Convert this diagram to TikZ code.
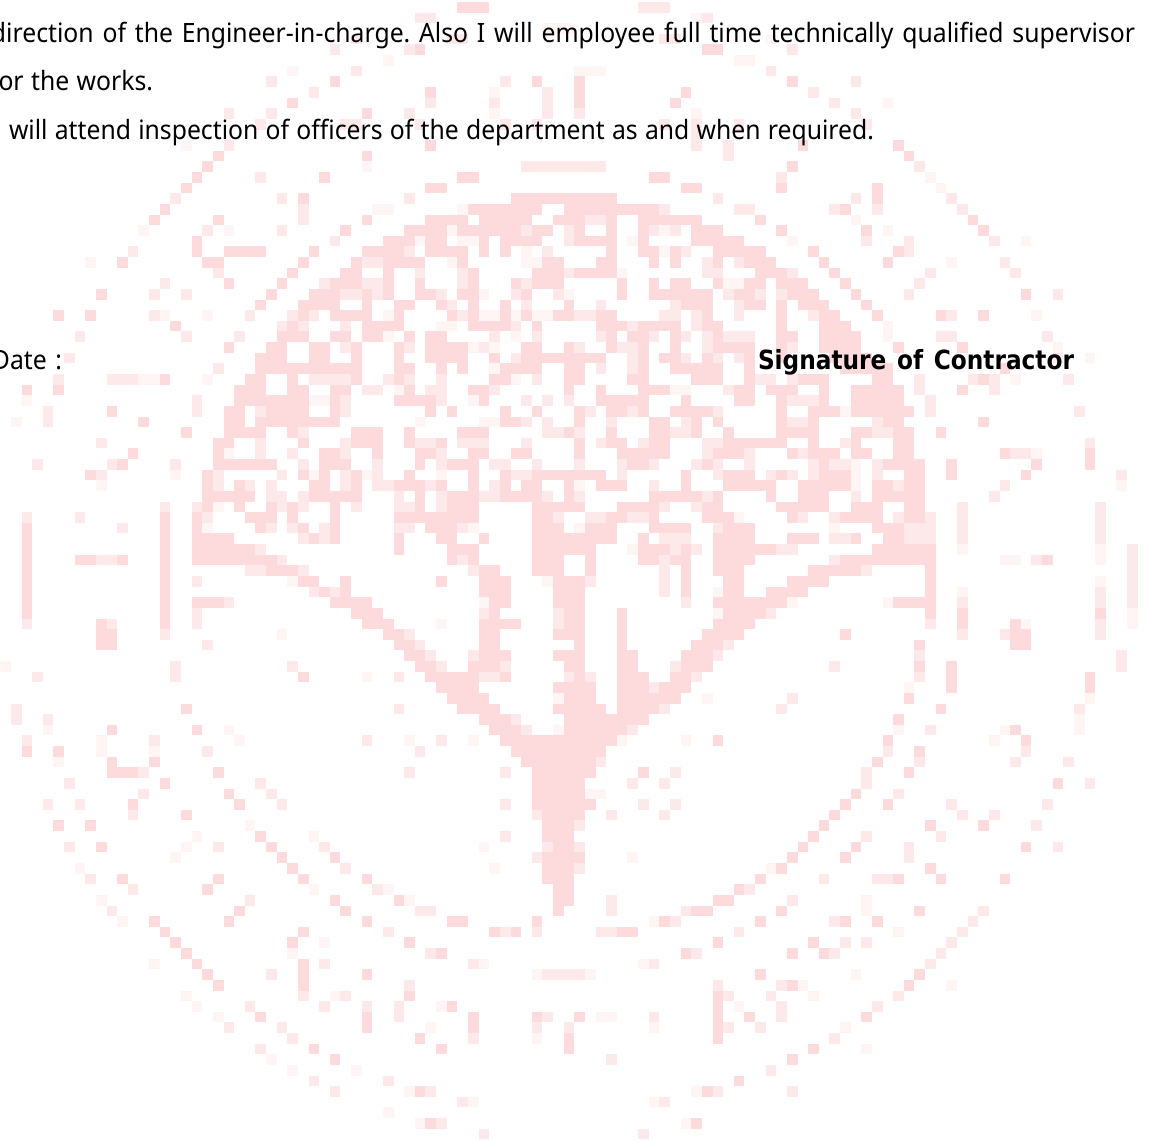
\documentclass[tikz,border=0pt]{standalone}
\usepackage{fontspec}
\setmainfont[FakeStretch=0.93]{Noto Sans}
\newfontfamily\sigfont[FakeStretch=0.88]{DejaVu Sans}
\frenchspacing
\definecolor{wmF}{HTML}{FDDADB}
\definecolor{wmL}{HTML}{FEE9EA}
\definecolor{wmT}{HTML}{FFF5F5}
\tikzset{
  wmf/.style={fill=wmF},
  wml/.style={fill=wmL},
  wmt/.style={fill=wmT},
  bodytext/.style={inner sep=0pt,outer sep=0pt,text=black,font=\fontsize{26.6bp}{30bp}\selectfont},
  signtext/.style={inner sep=0pt,outer sep=0pt,text=black,font=\sigfont\fontsize{26.4bp}{30bp}\selectfont\bfseries},
}
\newcommand\wmcells[2]{%
  \if\relax\detokenize{#2}\relax\else
  \foreach \ca/\cb in {#2}{%
    \pgfmathsetmacro\xa{round(181+10.63*\ca)}%
    \pgfmathsetmacro\xb{round(181+10.63*(\cb+1))}%
    \fill[#1] (\xa,\ya) rectangle (\xb,\yb);
  }\fi}
\newcommand\wmrow[4]{%
  \pgfmathsetmacro\ya{round(182.67+10.63*(#1))}%
  \pgfmathsetmacro\yb{round(182.67+10.63*(#1+1))}%
  \wmcells{wmt}{#4}\wmcells{wml}{#3}\wmcells{wmf}{#2}}
\begin{document}
\begin{tikzpicture}[x=1bp,y=-1bp]
\useasboundingbox (0,0) rectangle (1150,1142);
\wmrow{-17}{26/28}{43/45}{}
\wmrow{-16}{}{22/23,49}{48}
\wmrow{-15}{}{}{34/36}
\wmrow{-14}{}{16,25/26,45/46}{55}
\wmrow{-13}{22,49/50}{14,21,57}{}
\wmrow{-12}{}{}{19,52/53}
\wmrow{-11}{}{16,55}{10,37/39}
\wmrow{-10}{14,33,37,57}{8,30,63}{}
\wmrow{-9}{23,37,47}{12,34,59}{29}
\wmrow{-8}{10,37,46}{23,29,34,61}{66}
\wmrow{-7}{17}{4,8,21,34,37,63}{29,48}
\wmrow{-6}{}{7,15/16,22,30,33,45,48,52,64}{}
\wmrow{-5}{}{48}{}
\wmrow{-4}{23,58,67}{4,48,51}{0}
\wmrow{-3}{3,17,68}{51}{}
\wmrow{-2}{2,57}{32/39,69}{17}
\wmrow{-1}{1,13,26/27,44/45}{7,56}{70}
\wmrow{0}{0,23/24,47/48,56,65}{}{71}
\wmrow{1}{11,31/40,65}{-1,9,21,50,63,72}{}
\wmrow{2}{-2,27/33,36/44,62}{11,45,52/53,61,65,73}{18/19,26}
\wmrow{3}{-3,3,17,23/26,28/32,35/37,40,43/48,54,74}{11,38/39}{63}
\wmrow{4}{15,21/24,26/31,33/34,37,40,43,48/50,56,64,75}{2,9,32,36,44,46}{-4,4,25,45,66}
\wmrow{5}{1,19/21,23/24,28,30/33,37/40,43,48/52}{14,36,64,68,76}{22,26/27,42,57,79}
\wmrow{6}{1,4/7,12,17/20,23/26,28,30,40,43/44,46,50/54,59,67}{-5,21,34,47,68}{32,45}
\wmrow{7}{-6,2/3,11,16,19/22,26,34/35,39/40,44,46,50,53/55,60,66}{17/18,49,52,77}{-9,25,32/33,72}
\wmrow{8}{10,15/16,19,27,33/35,37/40,54/56,61}{3,22,26,36,49/50,57,70,78}{41}
\wmrow{9}{4,9,14/16,19,22,27,31,33/35,41,44,46/47,50,53/54,56/58,62}{-2,13,17/18,26,32,69}{51/52}
\wmrow{10}{-8,8,12/14,17,19,22/23,26/27,32,41,44/49,52/53,57/59,63,79}{-3,0,15/16,18,24,31,35,51,54,56,68,82}{28,36}
\wmrow{11}{7,11/14,17,20/21,24,27,30,36,47/49,53/54,56,58/60,64}{25,32,39,46,52}{}
\wmrow{12}{-12,-9,11,14/17,20,25,27,30,32,35/36,39/40,49,56,60/61,65,71,75}{-3,6,10,12,26,37/38,45/46,48,52,59,72}{-2,2,19,28/29,31,33/34,80}
\wmrow{13}{-1,10,17/20,27/30,33,39/41,43/46,49/50,56,60/62}{9,11,15,31,42,48}{24/25,66}
\wmrow{14}{9/11,14/15,17/18,21,23/24,40,42/43,46,50,56/57,60/63}{-10,0,5,29,33,39,44,47,49,51/53,71/72,81}{19,31,66}
\wmrow{15}{4,8/9,12/13,16,20,23/26,32/33,36,40,43,46,50/53,56,60/63,67,73}{15,21,28,37,41/42,49,57}{27,29,82}
\wmrow{16}{7/9,12/13,16,20,23/26,29,32/39,43,45/46,49,53,56,61/64}{-11,31,42,47,50,52,82}{85}
\wmrow{17}{7/16,20/21,24,26,30/33,36/37,43,46/50,53,62/66,77}{3,39,42}{29}
\wmrow{18}{-2,6/7,10,16,20,29/30,36/37,42/43,48/50,53,58/60,65/66,75}{-12,-7/-5,12/15,19,21,24,33,54/55,57,69,74,76,83}{-4/-3,2,31,78}
\wmrow{19}{-15,-12,5/7,10/11,14/15,21,27/28,36,39,43/45,52/53,55/57,60,63/67,73}{17/18,23/24,29,51,69,76}{20,46/47}
\wmrow{20}{5/11,14,20/23,28,39/43,47,52/53,56,60,63/67}{1,15,24,32,34,36,57/59,70}{-15,12/13,27}
\wmrow{21}{-7,4/5,8/11,14,23,25,30,33,37,40/41,43,46/49,56,59/61,63/68}{-13,1,7,15,38,42,50,70,84}{62}
\wmrow{22}{-4,4/5,7/14,30/31,37,44/45,48,50,56,59,66/67,75}{-13,32,34,40,47,57/58,65}{-16,22,28/29}
\wmrow{23}{0,4/7,10,16/18,21,26/28,36,40,44/45,48,51,56/59,63/64,67/68,71}{11,34/35,37,46/47,65/66}{}
\wmrow{24}{3/4,11,16/18,21,24,37,40/41,44/45,51/56,59,63,67/68}{-8,7,15,22/23,26/28,32,39,43,49/50,62,85}{}
\wmrow{25}{-5,3,13/14,18,22/23,27/28,31/32,37,41/45,50/52,57,59/61,63/64,67/68,77,85}{7,10,15,24,49,53,58,78/79}{4,80}
\wmrow{26}{-6,3/8,13/15,22,25/27,42/43,49,60,66/69,72,80,85}{-14,-7,-1,11,18,24,29/30,33,37,41,44,48,50,53,59,61/62,65}{63}
\wmrow{27}{-9,2,11,13,16,21,27,30,33/39,47,51/53,56,60/62,68/69,72,79}{-8,3,9,15,18,31/32,41,50,55,57,59,65,88}{-1,12,17,24,63}
\wmrow{28}{2,5,12/13,16,20/22,24,27,30,32/33,36,39/41,47,51/55,58/62,65/66,68/69}{3,6,8,15,18/19,23,29,44,67,77}{-8,37,63,88}
\wmrow{29}{2/6,12/16,22,25/27,30/33,36,44/48,50,55,58/60,65/69}{8/9,11,20,24,28/29,34,37,49,63,76}{}
\wmrow{30}{2,5,8,10,14,22,25/27,33/37,41/44,49/50,56/60,63/65,68/69}{-2,1,9,11,16,20/21,24,45,48,73,86}{3}
\wmrow{31}{-2,1,6/8,10,14,20/27,33/34,40/41,44,49/51,57,62/65,68/69}{-15,-10,2,35,38/39,42/43,58,61,67,70,73,86}{52}
\wmrow{32}{-15,-2,1,7,11,14,23/25,33/35,38/40,44/47,51/53,65/67}{-6,8,10,13,20/21,26,50,68/70,73,86}{2,27,37,61}
\wmrow{33}{-15,-2,1/4,12,14,20,24/25,28,33/40,43,50/53,57/59,63,66/67}{11,13,45/47,61/62,68/70,73,86}{}
\wmrow{34}{-15,-2,1/6,20,25/27,33/38,43/45,47,50/55,65/70}{7,46,48,56/57,89}{42,73,86}
\wmrow{35}{-15,-10/-9,-6,-2,1/8,25,27,33/35,38,43/44,46/47,50/53,62/70,81}{-8/-7,9,26,45,61,80,89}{77/78,86}
\wmrow{36}{-15,-2,8/10,28/29,33/35,38,47,50/52,59/63,70}{6/7,11,27,45,64,89}{}
\wmrow{37}{-15,-2,11/12,15,24,28/30,35/37,47,51/52,57/60,70}{1,38,45,89}{10,34,86}
\wmrow{38}{-15,-2,13,15,28/30,35/37,47,51/52,55/58,70}{12,14,45,86,89}{50,73}
\wmrow{39}{-15,-2,1/3,14/17,29/30,35/37,50/56,67/70}{4,47,73,86,89}{28,57,66}
\wmrow{40}{-15,-2,16/18,29,36/37,41,51/54,70,73,86}{1,28,35,55}{50,89}
\wmrow{41}{-8,-2,17/19,28/31,36/37,41,50/53,73,78}{-15,-7,1,35,70,86}{24,79,89}
\wmrow{42}{-8/-7,19/20,28/29,35/37,41,49/52,62,78/79}{-2,21,73,77,86}{9}
\wmrow{43}{-8/-7,20/21,28/29,37,41,48/50,69,78/79}{2,22,51}{}
\wmrow{44}{21/22,28/30,35/37,41/42,47/49}{23,27,50,69,88}{}
\wmrow{45}{22/23,27/29,36/37,41/42,47/49,69,72}{-1,10,24,30,46,61,88}{-17}
\wmrow{46}{11,23/27,30,37,41/43,46/47,72,85}{-14,-1,20,28/29,36,38,48,69}{17}
\wmrow{47}{24/27,35/38,41/43,45/47,72,85}{44}{68}
\wmrow{48}{25/28,36/38,41/46,68}{57}{35,49,85}
\wmrow{49}{0,26/29,35/39,41/44,71}{-16,20,45,56,84}{}
\wmrow{50}{28/30,36/43,67}{-16,-13,31}{84}
\wmrow{51}{-7,1,29/31,36/41,78}{32,42,70}{-13,4,35,67,77,84}
\wmrow{52}{30/40,50,66,79}{-15,-3,17,24}{-8,5,21,27,41,47,76}
\wmrow{53}{-15,-12,31/39,69}{2,22,66,79}{-8,-3}
\wmrow{54}{-7,-3,32/38,65}{39,69,78,83}{-12}
\wmrow{55}{-7/-5,3,33/38,43,68}{-4,21,30,46,64}{}
\wmrow{56}{-2,33/37,82}{-11,7,42,45,64,85}{}
\wmrow{57}{4,33/37,63}{-4,8,67}{38/39}
\wmrow{58}{-5,5,33/38,62,66}{-13,-10,9,30,43,46,72,81}{}
\wmrow{59}{0,34/37,61}{-5,33,40,45,73,76}{}
\wmrow{60}{-12,-9,34/36,60,70,75}{37,80}{6}
\wmrow{61}{7,34/36,59}{30,64,71}{1,12}
\wmrow{62}{-8,8,35/36,58,63,79}{-11,3,13,34,37,68,82}{0,28}
\wmrow{63}{9,14,34/37,57,62}{33,68}{-1,42}
\wmrow{64}{10,34/36,56,70}{15,37}{-10,29,55}
\wmrow{65}{-6,3,11,17,34/36,54,67,71,77}{-9,60,65/66}{}
\wmrow{66}{2,35/36,52}{-5,18,53}{12,19}
\wmrow{67}{14,20,35/36,50/51}{6,40,57}{-8,21,64}
\wmrow{68}{5,15,35,48/49,56,69}{-7,22/23,40,47,75}{64}
\wmrow{69}{-3,4,17,25/26,33,45,54,62,65}{46,61,74}{-6,44}
\wmrow{70}{-2,11,29,31,41/42}{19,30,33,39/40,52,73}{67}
\wmrow{71}{-1,10,21,50,59}{62,64,72}{13}
\wmrow{72}{0,24,47,57,60}{23,48,61,71}{10}
\wmrow{73}{1,11}{13,27,44,70}{-3,28,43}
\wmrow{74}{2,11,17,54,69}{8,34/37}{33,38,63}
\wmrow{75}{3,11,57,68}{21,50,56}{58,72}
\wmrow{76}{21,50}{11,15,51,55,67}{0,14,59}
\wmrow{77}{25,50}{6,13,17,20,56,65}{1,24,52}
\wmrow{78}{7,17,27,33,37,50,53,64}{20,34,44,56}{3,39/40}
\wmrow{79}{17,27,50}{4,9,33,36,51,54}{23,44,62}
\wmrow{80}{22,36,50}{10,27,61}{33}
\wmrow{81}{12,24,36,59}{7}{64}
\wmrow{82}{14,57}{40}{8}
\wmrow{83}{}{55}{10,16}
\wmrow{84}{52}{12,19}{}
\wmrow{85}{22,49}{14,23,50,57}{21,48}
\wmrow{86}{}{26,45}{27,44}
\wmrow{87}{}{}{19}
\wmrow{88}{23,48}{24}{22,47}
\wmrow{89}{}{28,43}{}
\node[bodytext,anchor=base west] (line1) at (-9,42) {\makebox[1144bp][s]{direction of the Engineer-in-charge. Also I will employee full time technically qualified supervisor}};
\node[bodytext,anchor=base east] (line2) at (153,90) {\makebox[163bp][s]{for the works.}};
\node[bodytext,anchor=base west] (line3) at (9,139) {\makebox[865bp][s]{will attend inspection of officers of the department as and when required.}};
\node[bodytext,anchor=base east] (date) at (62,369) {\makebox[70bp][s]{Date :}};
\node[signtext,anchor=base west] (sig) at (758,369) {\makebox[316bp][s]{Signature of Contractor}};
\end{tikzpicture}
\end{document}
